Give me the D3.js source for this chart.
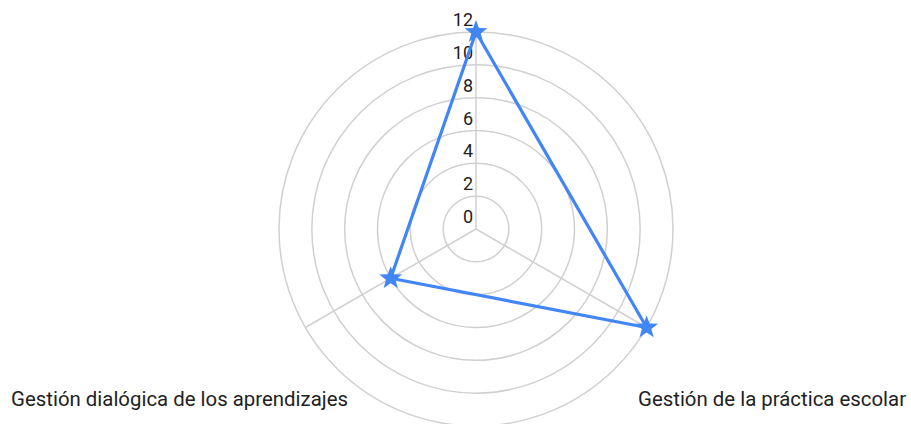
<!DOCTYPE html>
<html><head><meta charset="utf-8">
<script src="https://cdn.jsdelivr.net/npm/d3@7"></script>
<style>body{margin:0;background:#fff}svg{display:block}text{font-family:Roboto,sans-serif;fill:#222}</style>
</head><body>
<script>
const categories = ["", "Gestión de la práctica escolar", "Gestión dialógica de los aprendizajes"];
const values = [12, 12, 6];
const tickValues = [0, 2, 4, 6, 8, 10, 12];

const W = 911, H = 424, cx = 476, cy = 229, R = 197;
const svg = d3.select("body").append("svg").attr("width", W).attr("height", H);
const r = d3.scaleLinear().domain([0, 12]).range([0, R]);
const ang = d3.scaleLinear().domain([0, categories.length]).range([0, 2 * Math.PI]);
const pt = (i, v) => [cx + r(v) * Math.sin(ang(i)), cy - r(v) * Math.cos(ang(i))];

const g = svg.append("g");
g.selectAll("circle.ring").data(tickValues.filter(d => d > 0)).join("circle")
  .attr("cx", cx).attr("cy", cy).attr("r", d => r(d))
  .attr("fill", "none").attr("stroke", "#d0d0d0").attr("stroke-width", 1.5);
g.selectAll("line.spoke").data(categories).join("line")
  .attr("x1", cx).attr("y1", cy)
  .attr("x2", (d, i) => pt(i, 12)[0]).attr("y2", (d, i) => pt(i, 12)[1])
  .attr("stroke", "#d0d0d0").attr("stroke-width", 1.5);

g.selectAll("text.tick").data(tickValues).join("text")
  .attr("x", cx - 3).attr("y", d => cy - r(d) - 6)
  .attr("text-anchor", "end").attr("font-size", 18).text(d => d);

const line = d3.line().curve(d3.curveLinearClosed);
g.append("path").attr("d", line(values.map((v, i) => pt(i, v))))
  .attr("fill", "none").attr("stroke", "#4285F4").attr("stroke-width", 3.2).attr("stroke-linejoin", "round");

function star(x, y, ro, ri) {
  const p = [];
  for (let k = 0; k < 10; k++) {
    const a = k * Math.PI / 5, rr = k % 2 ? ri : ro;
    p.push([x + rr * Math.sin(a), y - rr * Math.cos(a)]);
  }
  return "M" + p.join("L") + "Z";
}
g.selectAll("path.star").data(values).join("path")
  .attr("d", (v, i) => { const [x, y] = pt(i, v); return star(x, y, 12, 5); })
  .attr("fill", "#4285F4");

// category labels
g.append("text").attr("x", pt(1, 12)[0] - 8.6).attr("y", 406).attr("font-size", 20.4)
  .attr("text-anchor", "start").text(categories[1]);
g.append("text").attr("x", pt(2, 12)[0] + 42.6).attr("y", 406).attr("font-size", 20.4)
  .attr("text-anchor", "end").text(categories[2]);
</script>
</body></html>
